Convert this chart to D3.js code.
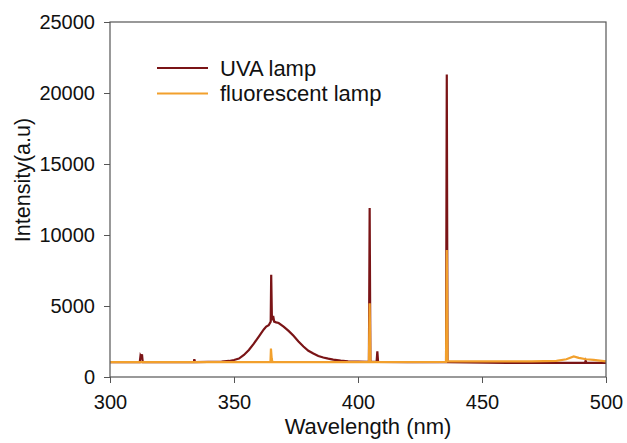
<!DOCTYPE html>
<html>
<head>
<meta charset="utf-8">
<script src="https://cdn.jsdelivr.net/npm/d3@7"></script>
<style>
  body { margin: 0; background: #fff; }
  text { font-family: "Liberation Sans", Arial, sans-serif; fill: #111; }
</style>
</head>
<body>
<svg id="chart" width="627" height="443"></svg>
<script>
// UVA lamp spectrum (nm, intensity)
const uvaWave = [300, 312.0, 312.3, 312.6, 312.9, 313.2, 333.8, 334.0, 334.3, 345, 348, 350, 352, 354, 356, 358, 360, 362, 363, 364, 364.8, 365.0, 365.3, 365.8, 366.2, 367, 368, 370, 372, 374, 376, 378, 380, 382, 384, 386, 388, 390, 393, 396, 400, 404.4, 404.7, 405.0, 407.5, 407.8, 408.1, 420, 435.5, 435.8, 436.1, 460, 480, 491.5, 491.8, 492.1, 500];
const uvaInt  = [1050, 1050, 1500, 1400, 1600, 1050, 1050, 1250, 1050, 1080, 1130, 1200, 1300, 1550, 1900, 2350, 2850, 3350, 3550, 3650, 3900, 7200, 4000, 4300, 3900, 3850, 3800, 3550, 3250, 2900, 2500, 2150, 1850, 1650, 1480, 1370, 1290, 1220, 1150, 1100, 1080, 1070, 11900, 1070, 1070, 1800, 1070, 1050, 1050, 21300, 1050, 1000, 1000, 1000, 1150, 1000, 1000];

// fluorescent lamp spectrum
const fluoWave = [300, 364.7, 364.9, 365.2, 365.5, 404.4, 404.7, 405.0, 435.5, 435.8, 436.1, 450, 470, 480, 484, 487, 489, 492, 495, 500];
const fluoInt  = [1050, 1050, 2000, 1300, 1050, 1050, 5200, 1050, 1070, 8950, 1100, 1100, 1100, 1130, 1250, 1450, 1350, 1250, 1200, 1100];

const xTicks = [300, 350, 400, 450, 500];
const yTicks = [0, 5000, 10000, 15000, 20000, 25000];
const seriesNames = ["UVA lamp", "fluorescent lamp"];
const colors = ["#7a1416", "#f2a02c"];

const margin = {top: 22, right: 21, bottom: 66, left: 110};
const width = 627, height = 443;
const innerWidth = width - margin.left - margin.right;
const innerHeight = height - margin.top - margin.bottom;

const svg = d3.select("#chart");
const g = svg.append("g").attr("transform", `translate(${margin.left},${margin.top})`);

const x = d3.scaleLinear().domain([300, 500]).range([0, innerWidth]);
const y = d3.scaleLinear().domain([0, 25000]).range([innerHeight, 0]);

const line = d3.line().x(d => x(d[0])).y(d => y(d[1]));

const uva = uvaWave.map((w, i) => [w, uvaInt[i]]);
const fluo = fluoWave.map((w, i) => [w, fluoInt[i]]);

g.append("path").datum(uva)
  .attr("fill", "none").attr("stroke", colors[0]).attr("stroke-width", 2.2).attr("d", line);
g.append("path").datum(fluo)
  .attr("fill", "none").attr("stroke", colors[1]).attr("stroke-width", 2.2).attr("d", line);

// frame
g.append("rect").attr("width", innerWidth).attr("height", innerHeight)
  .attr("fill", "none").attr("stroke", "#555").attr("stroke-width", 1.2);

const xAxis = g.append("g").attr("transform", `translate(0,${innerHeight})`)
  .call(d3.axisBottom(x).tickValues(xTicks).tickSize(6).tickPadding(12));
const yAxis = g.append("g")
  .call(d3.axisLeft(y).tickValues(yTicks).tickFormat(d3.format("d")).tickSize(6).tickPadding(9));

[xAxis, yAxis].forEach(a => {
  a.select(".domain").remove();
  a.selectAll("line").attr("stroke", "#555");
  a.selectAll("text").style("font-size", "20px").attr("fill", "#111");
});

svg.append("text")
  .attr("x", 368).attr("y", 434)
  .attr("text-anchor", "middle").style("font-size", "22px")
  .text("Wavelength (nm)");

svg.append("text")
  .attr("transform", "translate(30,180) rotate(-90)")
  .attr("text-anchor", "middle").style("font-size", "21.5px")
  .text("Intensity(a.u)");

// legend
const legend = svg.append("g").attr("transform", "translate(157,68)");
seriesNames.forEach((name, i) => {
  const row = legend.append("g").attr("transform", `translate(0,${i * 25.5})`);
  row.append("line").attr("x1", 0).attr("x2", 51)
    .attr("stroke", colors[i]).attr("stroke-width", 2.2);
  row.append("text").attr("x", 63).attr("y", 7.5).style("font-size", "22px").text(name);
});
</script>
</body>
</html>
